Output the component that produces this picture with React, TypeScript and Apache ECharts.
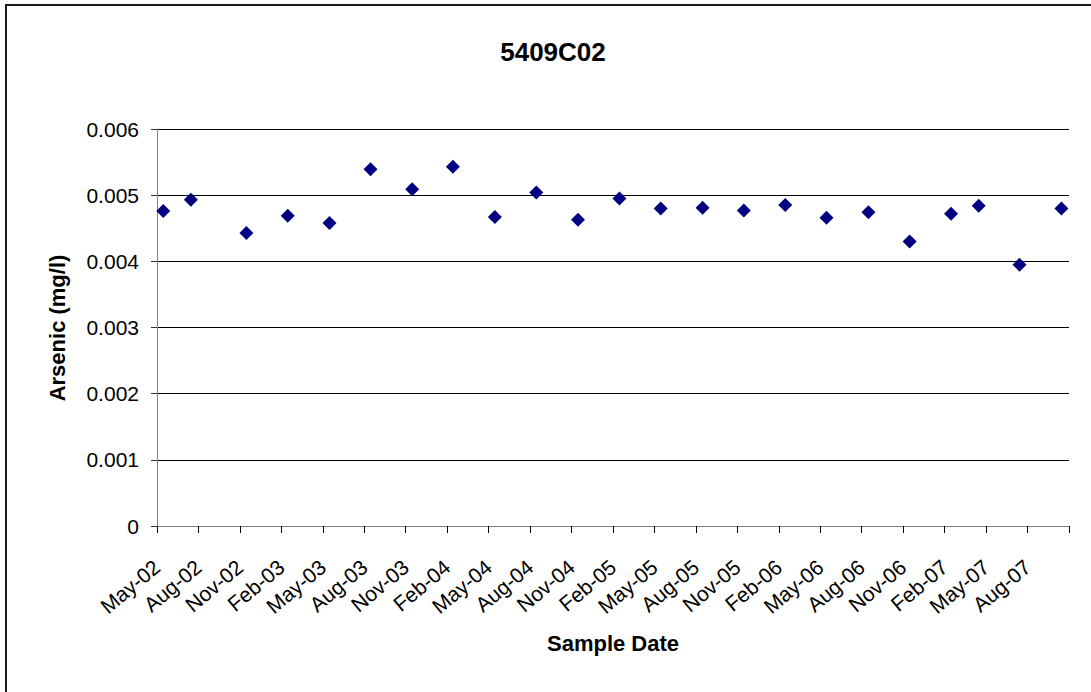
import React, { useEffect, useRef } from "react";
import * as echarts from "echarts";

const titleText = "5409C02";
const yAxisTitle = "Arsenic (mg/l)";
const xAxisTitle = "Sample Date";

const sampleDates = [
  "2002-05-15", "2002-07-15", "2002-11-15", "2003-02-14", "2003-05-16",
  "2003-08-15", "2003-11-15", "2004-02-13", "2004-05-15", "2004-08-15",
  "2004-11-15", "2005-02-14", "2005-05-15", "2005-08-16", "2005-11-15",
  "2006-02-14", "2006-05-15", "2006-08-16", "2006-11-15", "2007-02-14",
  "2007-04-15", "2007-07-14", "2007-10-15",
];

const arsenic = [
  0.00476, 0.00493, 0.00443, 0.00469, 0.00458,
  0.00539, 0.00509, 0.00543, 0.00467, 0.00504,
  0.00463, 0.00495, 0.0048, 0.00481, 0.00477,
  0.00485, 0.00466, 0.00474, 0.0043, 0.00472,
  0.00484, 0.00395, 0.0048,
];

const xTickLabels = [
  "May-02", "Aug-02", "Nov-02", "Feb-03", "May-03", "Aug-03", "Nov-03",
  "Feb-04", "May-04", "Aug-04", "Nov-04", "Feb-05", "May-05", "Aug-05",
  "Nov-05", "Feb-06", "May-06", "Aug-06", "Nov-06", "Feb-07", "May-07",
  "Aug-07",
];

const yTickLabels = ["0", "0.001", "0.002", "0.003", "0.004", "0.005", "0.006"];

// months elapsed since 1 May 2002 (axis origin)
function monthOffset(d: string): number {
  const [y, m, day] = d.split("-").map(Number);
  const dim = new Date(y, m, 0).getDate();
  return (y - 2002) * 12 + (m - 5) + (day - 1) / dim;
}

const FONT = "'Liberation Sans', Arial, sans-serif";

export default function App() {
  const ref = useRef<HTMLDivElement>(null);
  useEffect(() => {
    if (!ref.current) return;
    const chart = echarts.init(ref.current, undefined, { renderer: "svg" });
    const data = sampleDates.map((d, i) => [monthOffset(d), arsenic[i]]);
    chart.setOption({
      animation: false,
      backgroundColor: "#fff",
      grid: { left: 157, top: 129, width: 912, height: 397, containLabel: false },
      xAxis: {
        type: "value",
        min: 0,
        max: 66,
        interval: 3,
        axisLine: { show: true, lineStyle: { color: "#808080", width: 1 } },
        axisTick: { show: true, length: 7, lineStyle: { color: "#000" } },
        splitLine: { show: false },
        axisLabel: {
          rotate: 40,
          margin: 38,
          fontSize: 21,
          fontFamily: FONT,
          color: "#000",
          showMaxLabel: true,
          formatter: (v: number) => xTickLabels[Math.round(v / 3)] ?? "",
        },
      },
      yAxis: {
        type: "value",
        min: 0,
        max: 0.006,
        interval: 0.001,
        axisLine: { show: true, lineStyle: { color: "#808080", width: 1 } },
        axisTick: { show: true, length: 6, lineStyle: { color: "#333" } },
        splitLine: { show: true, lineStyle: { color: "#000", width: 1 } },
        axisLabel: {
          margin: 18,
          fontSize: 21,
          fontFamily: FONT,
          color: "#000",
          formatter: (v: number) => yTickLabels[Math.round(v / 0.001)] ?? "",
        },
      },
      series: [
        {
          type: "scatter",
          data,
          symbol: "diamond",
          symbolSize: 14,
          itemStyle: { color: "#000080", opacity: 1 },
        },
      ],
      graphic: [
        {
          type: "line",
          shape: { x1: 5, y1: 5, x2: 1200, y2: 5 },
          style: { stroke: "#1a1a1a", lineWidth: 2 },
          silent: true,
        },
        {
          type: "line",
          shape: { x1: 6, y1: 4, x2: 6, y2: 800 },
          style: { stroke: "#1a1a1a", lineWidth: 2 },
          silent: true,
        },
        {
          type: "text",
          x: 553,
          y: 52,
          style: {
            text: titleText,
            font: `bold 26px ${FONT}`,
            fill: "#000",
            align: "center",
            verticalAlign: "middle",
          },
        },
        {
          type: "text",
          x: 57,
          y: 328,
          rotation: Math.PI / 2,
          style: {
            text: yAxisTitle,
            font: `bold 22px ${FONT}`,
            fill: "#000",
            align: "center",
            verticalAlign: "middle",
          },
        },
        {
          type: "text",
          x: 613,
          y: 643,
          style: {
            text: xAxisTitle,
            font: `bold 22px ${FONT}`,
            fill: "#000",
            align: "center",
            verticalAlign: "middle",
          },
        },
      ],
    });
    return () => chart.dispose();
  }, []);
  return (
    <div
      ref={ref}
      style={{ position: "absolute", left: 0, top: 0, width: 1091, height: 692 }}
    />
  );
}
